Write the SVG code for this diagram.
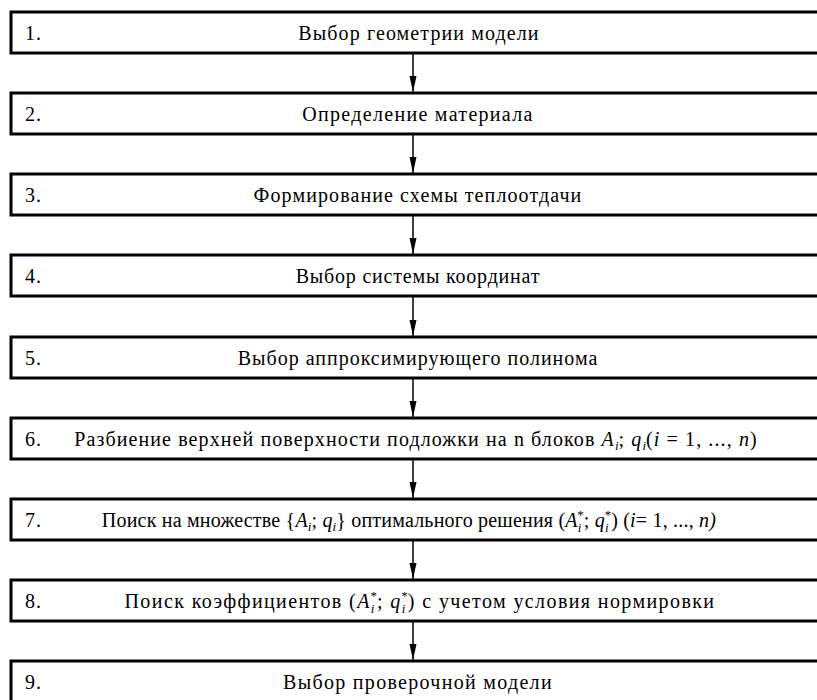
<svg xmlns="http://www.w3.org/2000/svg" width="817" height="700" viewBox="0 0 817 700">
<style>
.box{fill:#fff;stroke:#000;stroke-width:3}
text{font-family:"Liberation Serif","Times New Roman",serif;font-size:20px;fill:#000;letter-spacing:1.1px}
.c{text-anchor:middle}
.it{font-style:italic}
.sm{font-size:13px;letter-spacing:0}
.conn line{stroke:#000;stroke-width:1.5}
</style>
<defs>
<marker id="arr" viewBox="0 0 16 8" refX="16" refY="4" markerWidth="16" markerHeight="8" markerUnits="userSpaceOnUse" orient="auto">
<path d="M0,0.5 L16,4 L0,7.5 Z" fill="#000"/>
</marker>
</defs>
<g id="connectors" class="conn">
<line x1="413" y1="54" x2="413" y2="92" marker-end="url(#arr)"/>
<line x1="413" y1="135" x2="413" y2="173" marker-end="url(#arr)"/>
<line x1="413" y1="216" x2="413" y2="254" marker-end="url(#arr)"/>
<line x1="413" y1="297" x2="413" y2="336" marker-end="url(#arr)"/>
<line x1="413" y1="379" x2="413" y2="417" marker-end="url(#arr)"/>
<line x1="413" y1="460" x2="413" y2="498" marker-end="url(#arr)"/>
<line x1="413" y1="541" x2="413" y2="579" marker-end="url(#arr)"/>
<line x1="413" y1="622" x2="413" y2="660" marker-end="url(#arr)"/>
</g>
<g id="n1"><rect class="box" x="11" y="12" width="830" height="41"/><text x="25" y="40">1.</text><text class="c" x="419" y="40">Выбор геометрии модели</text></g>
<g id="n2"><rect class="box" x="11" y="93" width="830" height="41"/><text x="25" y="121">2.</text><text class="c" x="418" y="121" style="letter-spacing:1.3px">Определение материала</text></g>
<g id="n3"><rect class="box" x="11" y="174" width="830" height="41"/><text x="25" y="202">3.</text><text class="c" x="418" y="202">Формирование схемы теплоотдачи</text></g>
<g id="n4"><rect class="box" x="11" y="255" width="830" height="41"/><text x="25" y="283">4.</text><text class="c" x="418" y="283" style="letter-spacing:0.8px">Выбор системы координат</text></g>
<g id="n5"><rect class="box" x="11" y="337" width="830" height="41"/><text x="25" y="365">5.</text><text class="c" x="418" y="365" style="letter-spacing:1px">Выбор аппроксимирующего полинома</text></g>
<g id="n6"><rect class="box" x="11" y="418" width="830" height="41"/><text x="25" y="446">6.</text><text class="c" x="416" y="446">Разбиение верхней поверхности подложки на n блоков <tspan class="it">A</tspan><tspan class="it sm" dy="4">i</tspan><tspan dy="-4">; </tspan><tspan class="it">q</tspan><tspan class="it sm" dy="4">i</tspan><tspan dy="-4">(</tspan><tspan class="it">i</tspan> = 1, ..., <tspan class="it">n</tspan>)</text></g>
<g id="n7"><rect class="box" x="11" y="499" width="830" height="41"/><text x="25" y="527">7.</text><text class="c" x="409" y="527" style="letter-spacing:0.2px">Поиск на множестве {<tspan class="it">A</tspan><tspan class="it sm" dy="4">i</tspan><tspan dy="-4">; </tspan><tspan class="it">q</tspan><tspan class="it sm" dy="4">i</tspan><tspan dy="-4">} оптимального решения (</tspan><tspan class="it">A</tspan><tspan class="it sm" dy="5">i</tspan><tspan class="sm" dx="-4" dy="-13">*</tspan><tspan dy="8">; </tspan><tspan class="it">q</tspan><tspan class="it sm" dy="5">i</tspan><tspan class="sm" dx="-4" dy="-13">*</tspan><tspan dy="8">) (</tspan><tspan class="it">i</tspan>= 1, ..., <tspan class="it">n)</tspan></text></g>
<g id="n8"><rect class="box" x="11" y="580" width="830" height="41"/><text x="25" y="608">8.</text><text class="c" x="420" y="608" style="letter-spacing:1.4px">Поиск коэффициентов  (<tspan class="it">A</tspan><tspan class="it sm" dy="5">i</tspan><tspan class="sm" dx="-4" dy="-13">*</tspan><tspan dy="8">; </tspan><tspan class="it">q</tspan><tspan class="it sm" dy="5">i</tspan><tspan class="sm" dx="-4" dy="-13">*</tspan><tspan dy="8">)  с учетом условия нормировки</tspan></text></g>
<g id="n9"><rect class="box" x="11" y="661" width="830" height="41"/><text x="25" y="689">9.</text><text class="c" x="418" y="689" style="letter-spacing:1.3px">Выбор проверочной модели</text></g>
</svg>
